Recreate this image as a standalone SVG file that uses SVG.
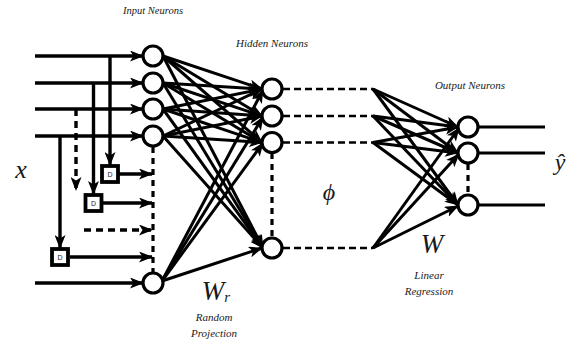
<svg xmlns="http://www.w3.org/2000/svg" width="574" height="343" viewBox="0 0 574 343">
<style>
.n{fill:#fff;stroke:#000;stroke-width:3.2}
.c{stroke:#000;stroke-width:3.2;fill:none}
.ca{stroke:#000;stroke-width:3;fill:none;marker-end:url(#ah)}
.ia{stroke:#000;stroke-width:3.4;fill:none;marker-end:url(#ah)}
.dv{stroke:#000;stroke-width:3.2;fill:none;stroke-dasharray:6 5}
.dh{stroke:#000;stroke-width:2.4;fill:none;stroke-dasharray:7 4}
.da{stroke:#000;stroke-width:3.4;fill:none;stroke-dasharray:7 5;marker-end:url(#ah)}
.bx{fill:#fff;stroke:#000;stroke-width:3.8}
.lb{font-family:"Liberation Serif",serif;font-style:italic;fill:#1a1a1a;text-anchor:middle}
.dt{font-family:"Liberation Sans",sans-serif;font-size:7px;fill:#222;text-anchor:middle}
</style>
<defs>
<marker id="ah" markerUnits="userSpaceOnUse" markerWidth="14" markerHeight="11" refX="13" refY="5.5" orient="auto">
<path d="M0,0 L14,5.5 L0,11 L3.5,5.5 Z" fill="#000"/>
</marker>
</defs>
<g id="connectors">
<line class="ia" x1="35" y1="56" x2="143" y2="56"/>
<line class="ia" x1="35" y1="83" x2="143" y2="83"/>
<line class="ia" x1="35" y1="109" x2="143" y2="109"/>
<line class="ia" x1="35" y1="136" x2="143" y2="136"/>
<line class="ia" x1="35" y1="283" x2="143" y2="283"/>
<line class="ia" x1="110" y1="56" x2="110" y2="165"/>
<line class="ia" x1="93.5" y1="83" x2="93.5" y2="194"/>
<line class="da" x1="76" y1="109" x2="76" y2="190"/>
<line class="ia" x1="60" y1="136" x2="60" y2="248"/>
<line class="ia" x1="119" y1="174" x2="152" y2="174"/>
<line class="ia" x1="103" y1="203" x2="152" y2="203"/>
<line class="da" x1="84" y1="230" x2="152" y2="230"/>
<line class="ia" x1="70" y1="257" x2="152" y2="257"/>
<line class="dv" x1="153" y1="147" x2="153" y2="272"/>
<line class="ca" x1="163" y1="56" x2="262" y2="89"/>
<line class="ca" x1="163" y1="56" x2="262" y2="116"/>
<line class="ca" x1="163" y1="56" x2="262" y2="142.5"/>
<line class="ca" x1="163" y1="56" x2="263" y2="248"/>
<line class="ca" x1="163" y1="83" x2="262" y2="89"/>
<line class="ca" x1="163" y1="83" x2="262" y2="116"/>
<line class="ca" x1="163" y1="83" x2="262" y2="142.5"/>
<line class="ca" x1="163" y1="83" x2="263" y2="248"/>
<line class="ca" x1="163" y1="109" x2="262" y2="89"/>
<line class="ca" x1="163" y1="109" x2="262" y2="116"/>
<line class="ca" x1="163" y1="109" x2="262" y2="142.5"/>
<line class="ca" x1="163" y1="109" x2="263" y2="248"/>
<line class="ca" x1="163" y1="136" x2="262" y2="89"/>
<line class="ca" x1="163" y1="136" x2="262" y2="116"/>
<line class="ca" x1="163" y1="136" x2="262" y2="142.5"/>
<line class="ca" x1="163" y1="136" x2="263" y2="248"/>
<line class="ca" x1="162" y1="281" x2="263" y2="90"/>
<line class="ca" x1="162" y1="281" x2="263" y2="117"/>
<line class="ca" x1="162" y1="281" x2="263" y2="143"/>
<line class="ca" x1="162" y1="281" x2="262" y2="248"/>
<line class="dh" x1="283" y1="89" x2="373" y2="89"/>
<line class="dh" x1="283" y1="116" x2="373" y2="116"/>
<line class="dh" x1="283" y1="142.5" x2="373" y2="142.5"/>
<line class="dh" x1="283" y1="248" x2="373" y2="248"/>
<line class="dv" x1="272" y1="153" x2="272" y2="238"/>
<line class="ca" x1="373" y1="89" x2="458" y2="127"/>
<line class="ca" x1="373" y1="89" x2="458" y2="153"/>
<line class="ca" x1="373" y1="89" x2="458" y2="205"/>
<line class="ca" x1="373" y1="116" x2="458" y2="127"/>
<line class="ca" x1="373" y1="116" x2="458" y2="153"/>
<line class="ca" x1="373" y1="116" x2="458" y2="205"/>
<line class="ca" x1="373" y1="142.5" x2="458" y2="127"/>
<line class="ca" x1="373" y1="142.5" x2="458" y2="153"/>
<line class="ca" x1="373" y1="142.5" x2="458" y2="205"/>
<line class="ca" x1="373" y1="248" x2="459" y2="128"/>
<line class="ca" x1="373" y1="248" x2="459" y2="154"/>
<line class="ca" x1="373" y1="248" x2="458" y2="206"/>
<line class="c" x1="479" y1="127" x2="545" y2="127"/>
<line class="c" x1="479" y1="153" x2="545" y2="153"/>
<line class="c" x1="479" y1="205" x2="545" y2="205"/>
<line class="dv" x1="468" y1="164" x2="468" y2="194"/>
</g>
<g id="delay1"><rect class="bx" x="102" y="166" width="16" height="16"/><text class="dt" x="110" y="177">D</text></g>
<g id="delay2"><rect class="bx" x="85.5" y="195" width="16" height="16"/><text class="dt" x="93.5" y="206">D</text></g>
<g id="delay3"><rect class="bx" x="52" y="249" width="16" height="16"/><text class="dt" x="60" y="260">D</text></g>
<g id="input-neurons">
<circle class="n" cx="153" cy="56" r="10"/>
<circle class="n" cx="153" cy="83" r="10"/>
<circle class="n" cx="153" cy="109" r="10"/>
<circle class="n" cx="153" cy="136" r="10"/>
<circle class="n" cx="153" cy="283" r="10"/>
</g>
<g id="hidden-neurons">
<circle class="n" cx="272" cy="89" r="10"/>
<circle class="n" cx="272" cy="116" r="10"/>
<circle class="n" cx="272" cy="142.5" r="10"/>
<circle class="n" cx="272" cy="248" r="10"/>
</g>
<g id="output-neurons">
<circle class="n" cx="468" cy="127" r="10"/>
<circle class="n" cx="468" cy="153" r="10"/>
<circle class="n" cx="468" cy="205" r="10"/>
</g>
<g id="labels">
<text class="lb" x="153" y="14" font-size="10.5">Input Neurons</text>
<text class="lb" x="272" y="47" font-size="11">Hidden Neurons</text>
<text class="lb" x="470" y="89" font-size="11">Output Neurons</text>
<text class="lb" x="21" y="178" font-size="26">x</text>
<text class="lb" x="329" y="200" font-size="24">ϕ</text>
<text class="lb" x="216" y="300" font-size="27">W<tspan font-size="15" dy="2">r</tspan></text>
<text class="lb" x="214" y="321" font-size="11">Random</text>
<text class="lb" x="214" y="337" font-size="11">Projection</text>
<text class="lb" x="432" y="253" font-size="27">W</text>
<text class="lb" x="429" y="279" font-size="11">Linear</text>
<text class="lb" x="429" y="295" font-size="11">Regression</text>
<text class="lb" x="560" y="170" font-size="24">ŷ</text>
</g>
</svg>
